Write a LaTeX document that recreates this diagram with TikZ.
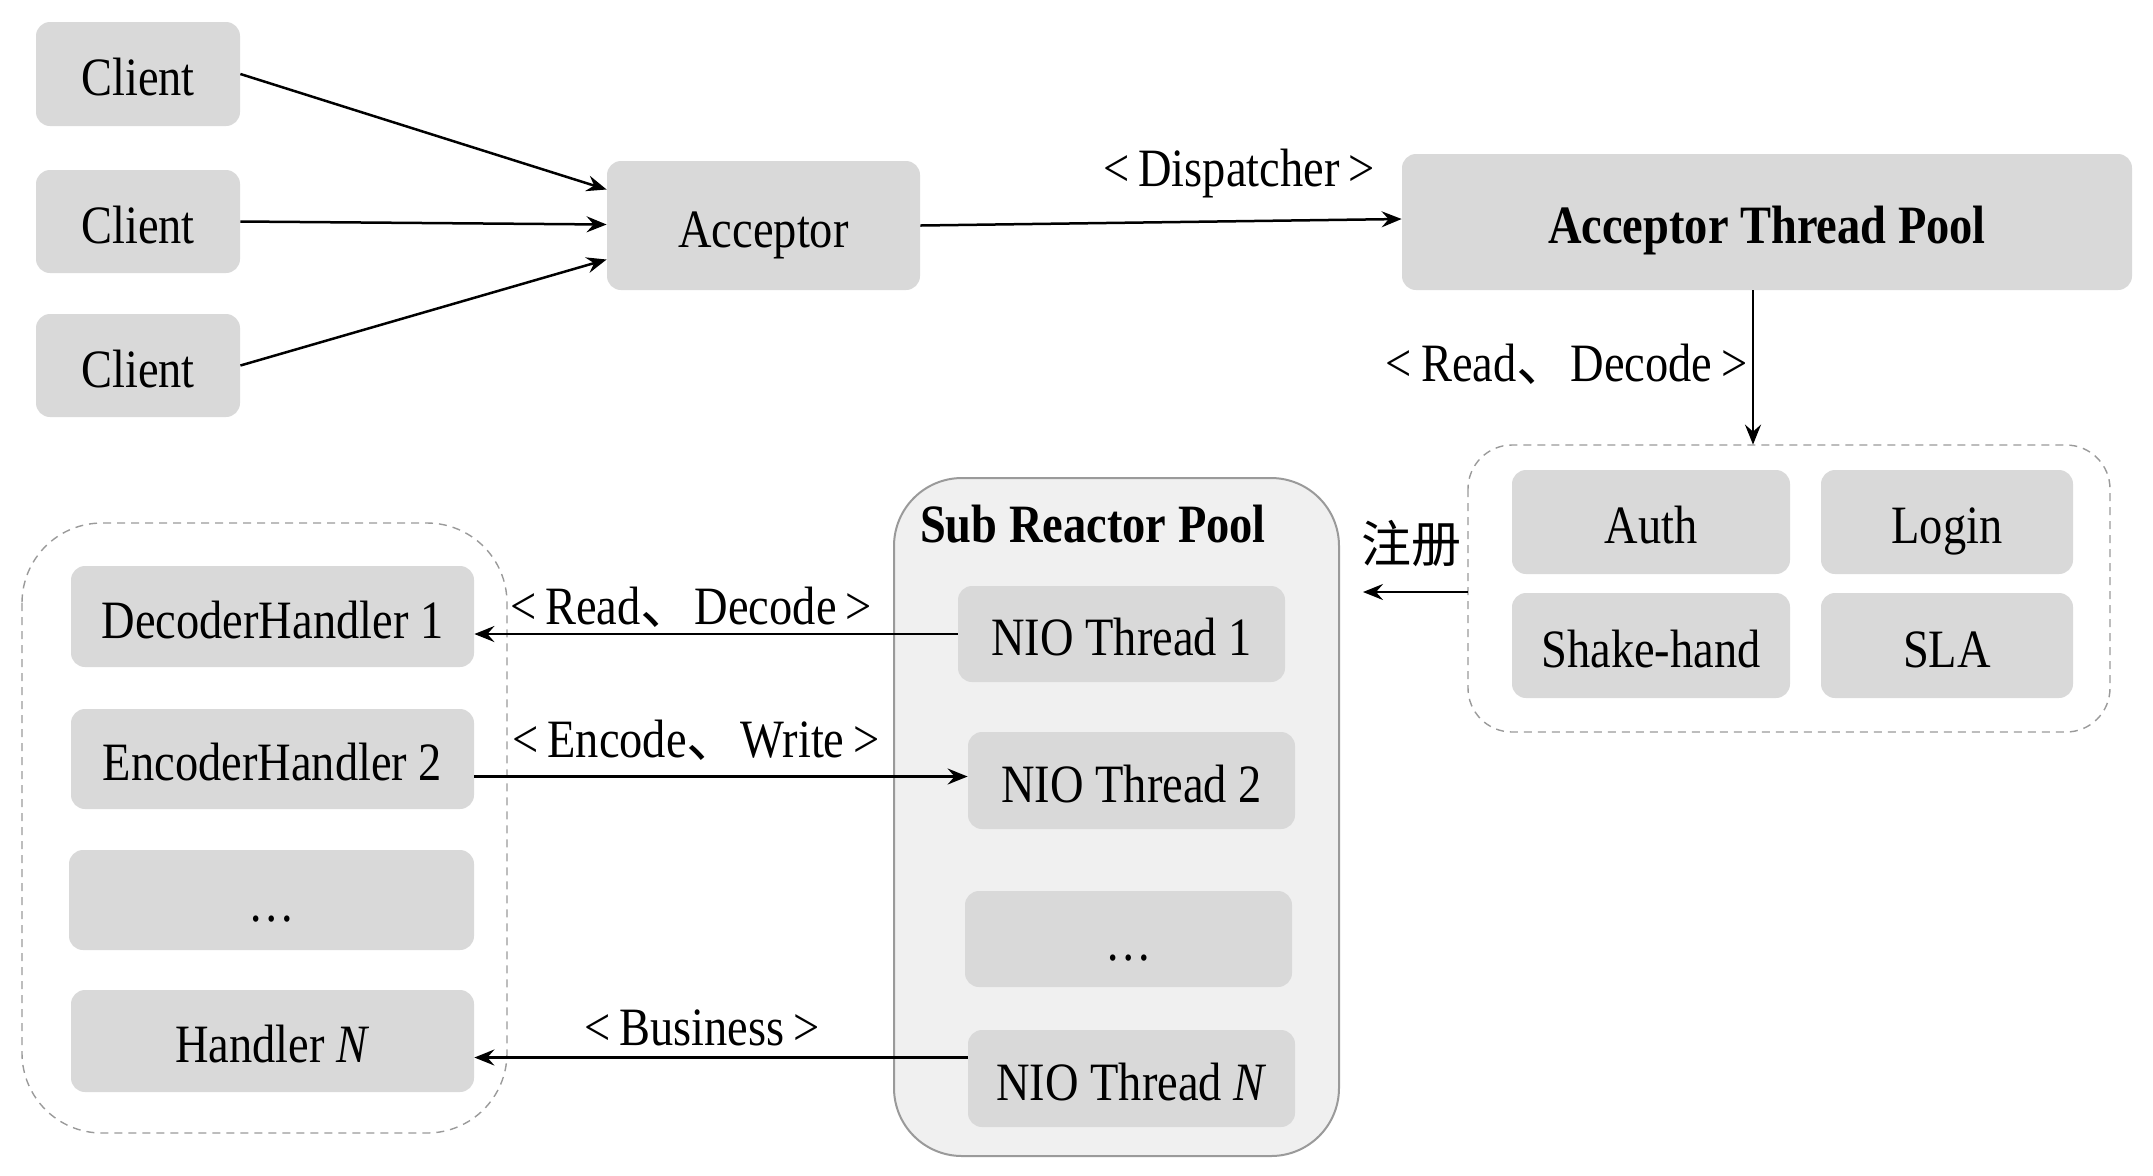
\documentclass[tikz,border=0pt]{standalone}
\usepackage{fontspec}
\setmainfont{Liberation Serif}[FakeStretch=0.86]
\newfontfamily\cjk{Noto Sans CJK SC}
\usetikzlibrary{arrows.meta}
\definecolor{boxgray}{HTML}{D9D9D9}
\definecolor{poolgray}{HTML}{F0F0F0}
\definecolor{edgegray}{HTML}{9A9A9A}
\newcommand{\dn}{{\cjk 、}}
\newcommand{\boxat}[6]{%
  \node[box, minimum width={(#4-#2)*0.5pt}, minimum height={(#5-#3)*0.5pt}] (#1) at ({(#2+#4)/2},{(#3+#5)/2}) {#6};}
\begin{document}
\begin{tikzpicture}[x=0.5pt,y=-0.5pt,
  font=\fontsize{27}{32}\selectfont,
  box/.style={fill=boxgray, rounded corners=7pt, inner sep=0pt, text height=21.6pt, text depth=0pt},
  dashbox/.style={draw=edgegray, line width=0.7pt, dash pattern=on 4pt off 3pt, rounded corners=22pt},
  arr/.style={-{Stealth[length=10pt,width=8pt,inset=3.5pt]}, line width=1.25pt, black},
  lbl/.style={inner sep=0pt}]
\useasboundingbox (0,0) rectangle (2153,1175);
% clients and acceptor
\boxat{c1}{36}{22}{240}{126}{Client}
\boxat{c2}{36}{170}{240}{273}{Client}
\boxat{c3}{36}{314}{240}{417}{Client}
\boxat{acc}{607}{161}{920}{290}{Acceptor}
\boxat{atp}{1402}{154}{2132}{290}{\bfseries Acceptor Thread Pool\hspace{14pt}}
% right dashed group
\draw[dashbox] (1468,445) rectangle (2110,732);
\node[inner sep=0pt, minimum width={(2110-1468)*0.5pt}, minimum height={(732-445)*0.5pt}] (rb) at ({(1468+2110)/2},{(445+732)/2}) {};
\boxat{auth}{1512}{470}{1790}{574}{Auth}
\boxat{login}{1821}{470}{2073}{574}{Login}
\boxat{shake}{1512}{593}{1790}{698}{Shake-hand}
\boxat{sla}{1821}{593}{2073}{698}{SLA}
% sub reactor pool
\draw[draw=edgegray, fill=poolgray, line width=1pt, rounded corners=34pt] (894,478) rectangle (1339,1156);
\node[lbl, font=\fontsize{27}{32}\selectfont\bfseries] (srp) at (1093,524) {Sub Reactor Pool};
\boxat{nio1}{958}{586}{1285}{682}{NIO Thread 1}
\boxat{nio2}{968}{732}{1295}{829}{NIO Thread 2}
\boxat{nio3}{965}{891}{1292}{987}{\dots}
\boxat{nioN}{968}{1030}{1295}{1127}{NIO Thread \textit{N}}
% left dashed group
\draw[dashbox, rounded corners=40pt] (22,523) rectangle (507,1133);
\boxat{dec}{71}{566}{474}{667}{DecoderHandler 1}
\boxat{enc}{71}{709}{474}{809}{EncoderHandler 2}
\boxat{hd}{69}{850}{474}{950}{\dots}
\boxat{hN}{71}{990}{474}{1092}{Handler \textit{N}}
% connectors
\draw[arr] (c1.east) -- ([yshift=18pt]acc.west);
\draw[arr] (c2.east) -- ([yshift=0.5pt]acc.west);
\draw[arr] (c3.east) -- ([yshift=-17pt]acc.west);
\draw[arr] (acc.east) -- ([yshift=1.5pt]atp.west);
\node[lbl] (ldisp) at (1239,174) {<\,Dispatcher\,>};
\draw[arr] ([xshift=-7pt]atp.south) -- ([xshift=-7pt]atp.south |- rb.north);
\node[lbl, anchor=east] (lrd1) at (1748,364) {<\,Read\dn Decode\,>};
\coordinate (reg) at (1363,592);
\draw[arr] (rb.west |- reg) -- (reg);
\node[lbl, font=\fontsize{25}{30}\selectfont\cjk] (lreg) at (1411,544) {注册};
\draw[arr] (nio1.west) -- (nio1.west -| dec.east);
\node[lbl] (lrd2) at (691,607) {<\,Read\dn Decode\,>};
\draw[arr] ([yshift=2pt]enc.east |- nio2.west) -- ([yshift=2pt]nio2.west);
\node[lbl] (lew) at (696,740) {<\,Encode\dn Write\,>};
\draw[arr] ([yshift=10.5pt]nioN.west) -- ([yshift=10.5pt]nioN.west -| hN.east);
\node[lbl] (lbus) at (702,1028) {<\,Business\,>};
\end{tikzpicture}
\end{document}
